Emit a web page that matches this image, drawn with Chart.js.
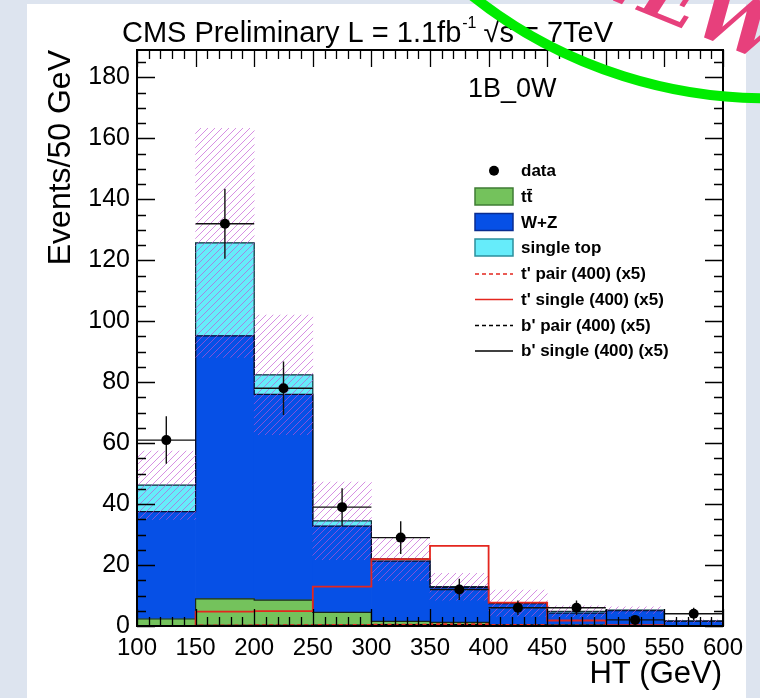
<!DOCTYPE html>
<html><head><meta charset="utf-8">
<script src="https://cdn.jsdelivr.net/npm/chart.js@4.4.1/dist/chart.umd.min.js"></script>
<style>
html,body{margin:0;padding:0;width:760px;height:698px;overflow:hidden;background:#dde4ef;}
#sheet{position:absolute;left:27px;top:4px;width:719px;height:694px;background:#fff;}
#c{position:absolute;left:0;top:0;}
</style></head><body>
<div id="sheet"></div>
<canvas id="c" width="760" height="698"></canvas>
<script>
// HT binning (GeV)
const binEdges   = [100,150,200,250,300,350,400,450,500,550,600];
const binCenters = [125,175,225,275,325,375,425,475,525,575];

// Background components (events / 50 GeV)
const ttbar     = [2.3, 8.9, 8.5, 4.5, 1.5, 1.2, 0.3, 0.3, 0.2, 0.1];
const wz        = [35.2, 86.3, 67.5, 28.3, 19.8, 11.5, 7.0, 3.9, 4.8, 1.5];
const singleTop = [8.7, 30.5, 6.4, 1.7, 0.7, 0.2, 0.2, 0.6, 0.2, 0.0];
const bkgErr    = [11.2, 37.6, 19.6, 12.7, 7.1, 4.4, 4.3, 1.8, 1.1, 0.4];

// Observed data
const dataCounts = [61, 132, 78, 39, 29, 12, 6, 6, 2, 4];
const dataErr    = [7.8, 11.5, 8.8, 6.2, 5.4, 3.5, 2.4, 2.4, 1.4, 2.0];

// Signal hypotheses, M = 400 GeV, scaled x5
const tpPair   = [0.0, 0.2, 0.3, 0.4, 0.5, 0.6, 0.4, 0.2, 0.1, 0.0];
const tpSingle = [0.0, 4.7, 4.9, 12.9, 21.9, 26.3, 7.7, 1.8, 0.3, 0.0];
const bpPair   = [0.0, 0.1, 0.2, 0.3, 0.3, 0.3, 0.2, 0.1, 0.1, 0.0];
const bpSingle = [0.0, 0.2, 0.2, 0.3, 0.4, 0.4, 0.3, 0.2, 0.1, 0.0];

// Axis tick labels
const xTicks = [100,150,200,250,300,350,400,450,500,550,600];
const yTicks = [0,20,40,60,80,100,120,140,160,180];

const FONT = "'Liberation Sans', Arial, Helvetica, sans-serif";
const C_TT = '#74c25c', C_WZ = '#0650e6', C_ST = '#66ecfa';
const C_RED = '#e4261e';

// cumulative stack levels
const lvlTT = ttbar.slice();
const lvlWZ = ttbar.map((v,i)=>v+wz[i]);
const lvlST = lvlWZ.map((v,i)=>v+singleTop[i]);

function floating(lo, hi){ return binCenters.map((x,i)=>({x, y:[lo[i], hi[i]]})); }
function steps(vals){
  const pts = vals.map((v,i)=>({x:binEdges[i], y:v}));
  pts.push({x:binEdges[binEdges.length-1], y:vals[vals.length-1]});
  return pts;
}
function hatchPattern(){
  const s = 7, cv = document.createElement('canvas');
  cv.width = s; cv.height = s;
  const g = cv.getContext('2d');
  g.strokeStyle = 'rgba(192,84,212,0.65)';
  g.lineWidth = 1;
  g.beginPath();
  g.moveTo(-1, s+1); g.lineTo(s+1, -1);
  g.moveTo(-1, 1); g.lineTo(1, -1);
  g.moveTo(s-1, s+1); g.lineTo(s+1, s-1);
  g.stroke();
  return g.createPattern(cv, 'repeat');
}

const zeros = binCenters.map(()=>0);
const bandLo = lvlST.map((v,i)=>Math.max(0, v-bkgErr[i]));
const bandHi = lvlST.map((v,i)=>v+bkgErr[i]);

const lineDs = (label, vals, color, width, dash, order) => ({
  type:'line', label, data: steps(vals), stepped:true, borderColor:color, borderWidth:width,
  borderDash:dash, pointRadius:0, fill:false, order
});

// Error bars for the data points (full bin width, +-error vertically)
const errorBars = {
  id:'errorBars',
  beforeDatasetDraw(chart, args){
    if (chart.data.datasets[args.index].label !== 'data') return;
    const ctx = chart.ctx, xs = chart.scales.x, ys = chart.scales.y;
    ctx.save();
    ctx.strokeStyle = '#111'; ctx.lineWidth = 1.4;
    dataCounts.forEach((v,i)=>{
      const yc = ys.getPixelForValue(v);
      ctx.beginPath();
      ctx.moveTo(xs.getPixelForValue(binEdges[i]), yc);
      ctx.lineTo(xs.getPixelForValue(binEdges[i+1]), yc);
      ctx.moveTo(xs.getPixelForValue(binCenters[i]), ys.getPixelForValue(v-dataErr[i]));
      ctx.lineTo(xs.getPixelForValue(binCenters[i]), ys.getPixelForValue(v+dataErr[i]));
      ctx.stroke();
    });
    ctx.restore();
  }
};

// Frame with inward tick marks on all four sides
const frame = {
  id:'frame',
  afterDatasetsDraw(chart){
    const ctx = chart.ctx, a = chart.chartArea, xs = chart.scales.x, ys = chart.scales.y;
    ctx.save();
    ctx.strokeStyle = '#000'; ctx.lineWidth = 1.3;
    ctx.beginPath();
    for (let v = 100; v <= 600; v += 10){
      const x = Math.round(xs.getPixelForValue(v)) + 0.5;
      const L = (v % 50 === 0) ? 17 : 9;
      ctx.moveTo(x, a.bottom); ctx.lineTo(x, a.bottom - L);
      ctx.moveTo(x, a.top); ctx.lineTo(x, a.top + L);
    }
    for (let v = 0; v <= 185; v += 5){
      const y = Math.round(ys.getPixelForValue(v)) + 0.5;
      const L = (v % 20 === 0) ? 18 : 9;
      ctx.moveTo(a.left, y); ctx.lineTo(a.left + L, y);
      ctx.moveTo(a.right, y); ctx.lineTo(a.right - L, y);
    }
    ctx.stroke();
    ctx.lineWidth = 2;
    ctx.strokeRect(a.left, a.top, a.right - a.left, a.bottom - a.top);
    ctx.restore();
  }
};

// Titles, legend and the slide annotation
const decor = {
  id:'decor',
  afterDraw(chart){
    const ctx = chart.ctx;
    ctx.save();
    ctx.fillStyle = '#000';
    ctx.textBaseline = 'alphabetic';
    // header
    let x = 122;
    const yb = 42;
    ctx.font = `29px ${FONT}`;
    let t = 'CMS Preliminary L = 1.1fb';
    ctx.fillText(t, x, yb); x += ctx.measureText(t).width;
    ctx.font = `16px ${FONT}`;
    ctx.fillText('-1', x + 1, yb - 14); x += ctx.measureText('-1').width + 8;
    ctx.font = `29px ${FONT}`;
    t = '\u221As = 7TeV';
    ctx.fillText(t, x, yb);
    // channel label
    ctx.font = `27px ${FONT}`;
    ctx.fillText('1B_0W', 468, 97);
    // axis titles
    ctx.font = `31px ${FONT}`;
    ctx.textAlign = 'right';
    ctx.fillText('HT (GeV)', 722, 683);
    ctx.save();
    ctx.translate(70, 50);
    ctx.rotate(-Math.PI/2);
    ctx.font = `32px ${FONT}`;
    ctx.fillText('Events/50 GeV', 0, 0);
    ctx.restore();
    ctx.textAlign = 'left';

    // legend
    const lx = 475, lw = 38, tx = 521, rows = [170.7,196.5,222,247.5,273.5,299,325,350.5];
    ctx.font = `bold 17px ${FONT}`;
    ctx.textBaseline = 'middle';
    const entries = [
      {k:'pt', label:'data'},
      {k:'box', fill:C_TT, line:'#3f7c34', label:'tt\u0304'},
      {k:'box', fill:C_WZ, line:'#0a2c90', label:'W+Z'},
      {k:'box', fill:C_ST, line:'#2b8f9c', label:'single top'},
      {k:'ln', color:C_RED, dash:[4,3], label:"t' pair (400) (x5)"},
      {k:'ln', color:C_RED, dash:[], label:"t' single (400) (x5)"},
      {k:'ln', color:'#000', dash:[4,3], label:"b' pair (400) (x5)"},
      {k:'ln', color:'#000', dash:[], label:"b' single (400) (x5)"}
    ];
    entries.forEach((e,i)=>{
      const y = rows[i];
      if (e.k === 'pt'){
        ctx.beginPath(); ctx.arc(lx + lw/2, y, 5, 0, 2*Math.PI); ctx.fillStyle = '#000'; ctx.fill();
      } else if (e.k === 'box'){
        ctx.fillStyle = e.fill; ctx.fillRect(lx, y-8.5, lw, 17);
        ctx.strokeStyle = e.line; ctx.lineWidth = 1.5; ctx.strokeRect(lx, y-8.5, lw, 17);
      } else {
        ctx.strokeStyle = e.color; ctx.lineWidth = 1.6; ctx.setLineDash(e.dash);
        ctx.beginPath(); ctx.moveTo(lx, y+0.5); ctx.lineTo(lx+lw, y+0.5); ctx.stroke();
        ctx.setLineDash([]);
      }
      ctx.fillStyle = '#000';
      ctx.fillText(e.label, tx, y + 1);
    });

    // green circled stamp and its lettering
    ctx.strokeStyle = '#00ec00';
    ctx.lineWidth = 10;
    ctx.beginPath();
    ctx.arc(765, -372, 470, 80*Math.PI/180, 135*Math.PI/180);
    ctx.stroke();
    ctx.save();
    ctx.translate(572, -16);
    ctx.rotate(22*Math.PI/180);
    ctx.fillStyle = '#e7407c';
    ctx.textBaseline = 'alphabetic';
    ctx.font = `italic bold 76px 'DejaVu Serif', serif`;
    ctx.fillText('NEW', 0, 0);
    ctx.restore();
    ctx.restore();
  }
};

new Chart(document.getElementById('c'), {
  type:'bar',
  data:{
    datasets:[
      { type:'line', label:'data', data: binCenters.map((x,i)=>({x, y:dataCounts[i]})), showLine:false,
        pointRadius:5, pointBackgroundColor:'#000', pointBorderColor:'#000', pointBorderWidth:0, order:0 },
      lineDs("t' single (400) (x5)", tpSingle, C_RED, 1.8, [], 1),
      lineDs("t' pair (400) (x5)", tpPair, C_RED, 1.6, [4,3], 1),
      lineDs("b' single (400) (x5)", bpSingle, '#000', 1.4, [], 1),
      lineDs("b' pair (400) (x5)", bpPair, '#000', 1.4, [4,3], 1),
      { label:'uncertainty', data: floating(bandLo, bandHi), backgroundColor: hatchPattern(), borderWidth:0,
        grouped:false, barPercentage:1, categoryPercentage:1, order:2 },
      lineDs('tt edge', lvlTT, '#1b2a1b', 1.2, [], 3),
      lineDs('wz edge', lvlWZ, '#0a0f30', 1.2, [], 3),
      lineDs('st edge', lvlST, '#113038', 1.2, [], 3),
      { label:'tt', data: floating(zeros, lvlTT), backgroundColor:C_TT, borderWidth:0,
        grouped:false, barPercentage:1, categoryPercentage:1, order:4 },
      { label:'W+Z', data: floating(lvlTT, lvlWZ), backgroundColor:C_WZ, borderWidth:0,
        grouped:false, barPercentage:1, categoryPercentage:1, order:4 },
      { label:'single top', data: floating(lvlWZ, lvlST), backgroundColor:C_ST, borderWidth:0,
        grouped:false, barPercentage:1, categoryPercentage:1, order:4 }
    ]
  },
  options:{
    responsive:false, animation:false, devicePixelRatio:1,
    layout:{padding:{left:0, top:50, right:37, bottom:0}},
    plugins:{legend:{display:false}, tooltip:{enabled:false}, title:{display:false}},
    scales:{
      x:{ type:'linear', min:100, max:600, offset:false,
          grid:{display:false, drawTicks:false, offset:false}, border:{display:false},
          ticks:{font:{family:FONT, size:24}, color:'#000', padding:8, maxRotation:0, autoSkip:false},
          afterBuildTicks(s){ s.ticks = xTicks.map(v=>({value:v})); },
          afterFit(s){ s.height = 72; } },
      y:{ type:'linear', min:0, max:189,
          grid:{display:false, drawTicks:false}, border:{display:false},
          ticks:{font:{family:FONT, size:25}, color:'#000', padding:7},
          afterBuildTicks(s){ s.ticks = yTicks.map(v=>({value:v})); },
          afterFit(s){ s.width = 137; } }
    }
  },
  plugins:[errorBars, frame, decor]
});
</script>
</body></html>
